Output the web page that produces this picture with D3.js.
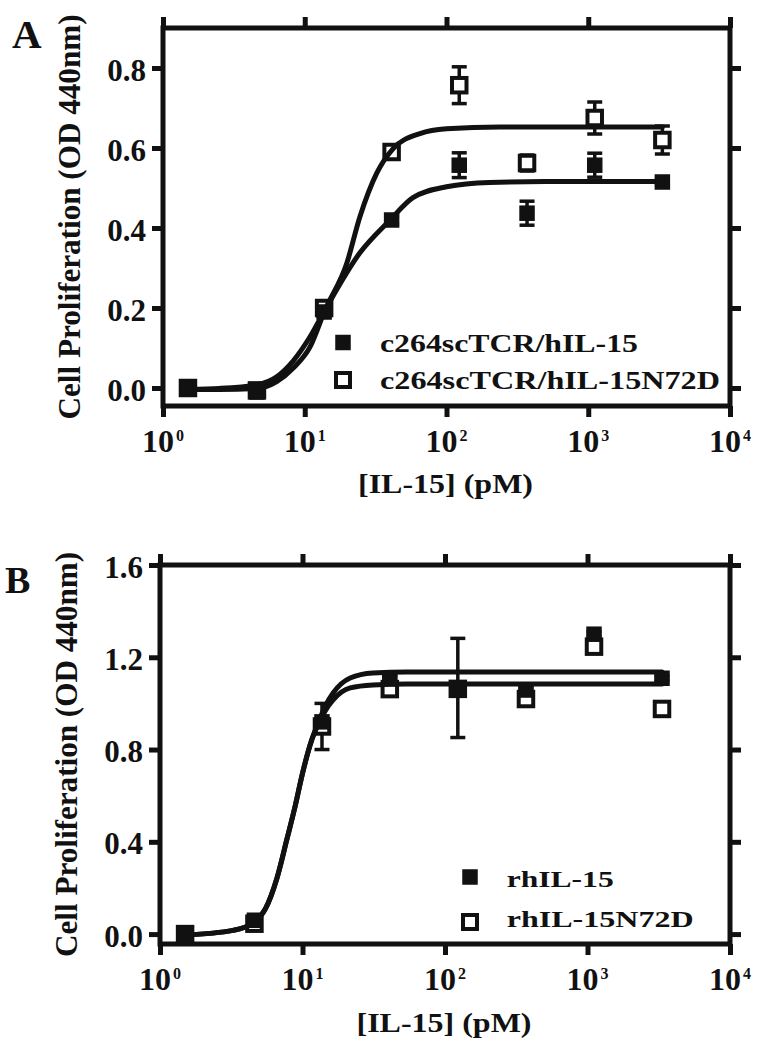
<!DOCTYPE html>
<html>
<head>
<meta charset="utf-8">
<script src="https://cdn.jsdelivr.net/npm/d3@7"></script>
<style>
  body { margin: 0; background: #fff; }
  svg { display: block; }
</style>
</head>
<body>
<svg id="chart" width="762" height="1050"></svg>
<script>
// ---------------- DATA ----------------
const concentrations = [1.5, 4.6, 13.7, 41, 123, 370, 1111, 3333]; // pM
const xTickValues = [1, 10, 100, 1000, 10000];
const xTickExponents = ["0", "1", "2", "3", "4"];

// Panel A
const aYTicks = [0.0, 0.2, 0.4, 0.6, 0.8];
const aYTickLabels = ["0.0", "0.2", "0.4", "0.6", "0.8"];
const aSeriesNames = ["c264scTCR/hIL-15", "c264scTCR/hIL-15N72D"];
const aFilled    = [0.0, -0.01, 0.19, 0.42, 0.557, 0.437, 0.557, 0.515];
const aFilledErr = [0.004, 0.004, 0.01, 0.01, 0.031, 0.030, 0.030, 0.006];
const aOpen      = [0.0, -0.006, 0.20, 0.59, 0.757, 0.5625, 0.675, 0.62];
const aOpenErr   = [0.004, 0.004, 0.01, 0.01, 0.046, 0.020, 0.040, 0.035];
const aFilledFit = [[1.5, -0.003], [2.5, -0.001], [4.6, 0.008], [6.34, 0.028], [8.3, 0.068], [10.9, 0.128],
                    [13.9, 0.195], [24.5, 0.338], [40, 0.42], [58, 0.476], [100, 0.503], [200, 0.514],
                    [500, 0.516], [3333, 0.516]];
const aOpenFit   = [[1.5, -0.004], [2.5, -0.004], [4.6, -0.001], [6.34, 0.016], [8.3, 0.05], [10.9, 0.103],
                    [13.9, 0.195], [19.8, 0.312], [24.5, 0.428], [32.2, 0.537], [41.9, 0.598], [65, 0.636],
                    [100, 0.648], [238, 0.6525], [3333, 0.6525]];

// Panel B
const bYTicks = [0.0, 0.4, 0.8, 1.2, 1.6];
const bYTickLabels = ["0.0", "0.4", "0.8", "1.2", "1.6"];
const bSeriesNames = ["rhIL-15", "rhIL-15N72D"];
const bFilled    = [0.0, 0.06, 0.92, 1.107, 1.067, 1.058, 1.30, 1.109];
const bFilledErr = [0.004, 0.004, 0.01, 0.01, 0.215, 0.01, 0.01, 0.01];
const bOpen      = [0.0, 0.045, 0.90, 1.062, 1.063, 1.019, 1.246, 0.976];
const bOpenErr   = [0.004, 0.004, 0.10, 0.01, 0.01, 0.01, 0.01, 0.01];
const bFilledFit = [[1.5, -0.004], [3.25, 0.016], [4.5, 0.048], [5.5, 0.11], [6.6, 0.24], [7.75, 0.408],
                    [8.86, 0.552], [10.0, 0.697], [11.6, 0.841], [12.9, 0.915], [14.5, 0.99], [16.4, 1.045],
                    [21.6, 1.11], [31.2, 1.132], [54, 1.136], [3333, 1.136]];
const bOpenFit   = [[1.5, -0.004], [3.25, 0.016], [4.5, 0.048], [5.5, 0.11], [6.6, 0.24], [7.75, 0.408],
                    [8.86, 0.552], [10.0, 0.697], [11.6, 0.841], [12.9, 0.91], [14.5, 0.97], [16.4, 1.015],
                    [21.6, 1.067], [31.2, 1.08], [54, 1.084], [3333, 1.084]];

const yTitle = "Cell Proliferation (OD 440nm)";
const xTitle = "[IL-15] (pM)";

// ---------------- FONT PICK ----------------
function fontAvailable(name) {
  const ctx = document.createElement("canvas").getContext("2d");
  const s = "abcdefghijklmnopqrstuvwxyzABCDEFGHIJ0123456789";
  ctx.font = "bold 40px monospace";
  const w0 = ctx.measureText(s).width;
  ctx.font = `bold 40px "${name}", monospace`;
  return Math.abs(ctx.measureText(s).width - w0) > 0.5;
}
const serifCandidates = ["Liberation Serif", "Times New Roman", "Tinos", "Nimbus Roman", "Nimbus Roman No9 L", "FreeSerif", "DejaVu Serif"];
const FONT = (serifCandidates.find(fontAvailable) || "serif");
const FONT_CSS = `"${FONT}", serif`;

// ---------------- LAYOUT ----------------
const INK = "#111";
const panels = [
  {
    letter: "A", letterX: 12, letterY: 48, letterSize: 41,
    left: 163, right: 730, top: 28, bottom: 406, yDomain: [-0.045, 0.9],
    yTicks: aYTicks, yTickLabels: aYTickLabels,
    filled: aFilled, filledErr: aFilledErr, open: aOpen, openErr: aOpenErr,
    filledFit: aFilledFit, openFit: aOpenFit, names: aSeriesNames,
    yTitleX: 80, xTitleY: 493,
    legend: { sqX: 343, rowY: [342.5, 380], textX: 380, baseY: [351.7, 389.3], size: 25, lens: [258, 340] }
  },
  {
    letter: "B", letterX: 5, letterY: 593, letterSize: 38,
    left: 160, right: 730, top: 565, bottom: 944, yDomain: [-0.043, 1.6],
    yTicks: bYTicks, yTickLabels: bYTickLabels,
    filled: bFilled, filledErr: bFilledErr, open: bOpen, openErr: bOpenErr,
    filledFit: bFilledFit, openFit: bOpenFit, names: bSeriesNames,
    yTitleX: 77, xTitleY: 1032,
    legend: { sqX: 470, rowY: [877, 922], textX: 506.7, baseY: [886.7, 927], size: 24, lens: [107, 187] }
  }
];

const svg = d3.select("#chart");

function txt(sel) {
  return sel.attr("font-family", FONT_CSS).attr("font-weight", "bold").attr("fill", INK);
}

function drawPanel(p) {
  const g = svg.append("g");
  const x = d3.scaleLog().domain([1, 10000]).range([p.left, p.right]);
  const y = d3.scaleLinear().domain(p.yDomain).range([p.bottom, p.top]);

  const styleAxis = sel => {
    sel.select(".domain").remove();
    sel.selectAll(".tick line").attr("stroke", INK).attr("stroke-width", 5);
  };

  // Axes ticks (outward on all four sides)
  g.append("g").attr("transform", `translate(${p.left},0)`)
    .call(d3.axisLeft(y).tickValues(p.yTicks).tickSize(11).tickPadding(6)
      .tickFormat((d, i) => p.yTickLabels[i]))
    .call(styleAxis)
    .call(s => txt(s.selectAll(".tick text")).attr("font-size", 31).attr("dy", "0.39em"));
  g.append("g").attr("transform", `translate(${p.right},0)`)
    .call(d3.axisRight(y).tickValues(p.yTicks).tickSize(11).tickFormat(""))
    .call(styleAxis);
  g.append("g").attr("transform", `translate(0,${p.top})`)
    .call(d3.axisTop(x).tickValues(xTickValues).tickSize(11).tickFormat(""))
    .call(styleAxis);
  g.append("g").attr("transform", `translate(0,${p.bottom})`)
    .call(d3.axisBottom(x).tickValues(xTickValues).tickSize(11).tickFormat(""))
    .call(styleAxis);

  // Frame
  g.append("rect").attr("x", p.left).attr("y", p.top)
    .attr("width", p.right - p.left).attr("height", p.bottom - p.top)
    .attr("fill", "none").attr("stroke", INK).attr("stroke-width", 5);

  // X tick labels 10^n
  const xl = txt(g.append("g").selectAll("text").data(xTickValues).join("text"))
    .attr("x", d => x(d)).attr("y", p.bottom + 46).attr("text-anchor", "middle");
  xl.append("tspan").attr("font-size", 32).text("10");
  xl.append("tspan").attr("font-size", 16).attr("dx", 2).attr("dy", -11)
    .text((d, i) => xTickExponents[i]);

  // Axis titles
  txt(g.append("text")).attr("x", (p.left + p.right) / 2 - 1).attr("y", p.xTitleY)
    .attr("text-anchor", "middle").attr("font-size", 28)
    .attr("textLength", 175).attr("lengthAdjust", "spacingAndGlyphs").text(xTitle);
  txt(g.append("text"))
    .attr("transform", `translate(${p.yTitleX},${(p.top + p.bottom) / 2}) rotate(-90)`)
    .attr("text-anchor", "middle").attr("font-size", 31)
    .attr("textLength", 405).attr("lengthAdjust", "spacingAndGlyphs").text(yTitle);

  // Panel letter
  txt(g.append("text")).attr("x", p.letterX).attr("y", p.letterY)
    .attr("font-size", p.letterSize).text(p.letter);

  // Error bars
  const drawErr = (vals, errs) => {
    const eg = g.append("g").attr("stroke", INK).attr("stroke-width", 3.5);
    concentrations.forEach((c, i) => {
      const cx = x(c), y1 = y(vals[i] - errs[i]), y2 = y(vals[i] + errs[i]);
      eg.append("line").attr("x1", cx).attr("x2", cx).attr("y1", y1).attr("y2", y2);
      eg.append("line").attr("x1", cx - 7.5).attr("x2", cx + 7.5).attr("y1", y1).attr("y2", y1);
      eg.append("line").attr("x1", cx - 7.5).attr("x2", cx + 7.5).attr("y1", y2).attr("y2", y2);
    });
  };
  drawErr(p.open, p.openErr);
  drawErr(p.filled, p.filledErr);

  // Markers: open first, filled on top
  g.append("g").selectAll("rect").data(p.open).join("rect")
    .attr("x", (d, i) => x(concentrations[i]) - 7.25).attr("y", d => y(d) - 7.25)
    .attr("width", 14.5).attr("height", 14.5)
    .attr("fill", "#fff").attr("stroke", INK).attr("stroke-width", 4);
  g.append("g").selectAll("rect").data(p.filled).join("rect")
    .attr("x", (d, i) => x(concentrations[i]) - 7.75).attr("y", d => y(d) - 7.75)
    .attr("width", 15.5).attr("height", 15.5).attr("fill", INK);

  // Fitted curves
  const line = d3.line().x(d => x(d[0])).y(d => y(d[1])).curve(d3.curveMonotoneX);
  [p.openFit, p.filledFit].forEach(fit => {
    g.append("path").attr("d", line(fit)).attr("fill", "none")
      .attr("stroke", INK).attr("stroke-width", 5).attr("stroke-linecap", "round");
  });

  // Legend
  const L = p.legend;
  g.append("rect").attr("x", L.sqX - 7.75).attr("y", L.rowY[0] - 7.75)
    .attr("width", 15.5).attr("height", 15.5).attr("fill", INK);
  g.append("rect").attr("x", L.sqX - 7).attr("y", L.rowY[1] - 7)
    .attr("width", 14).attr("height", 14).attr("fill", "#fff").attr("stroke", INK).attr("stroke-width", 4);
  p.names.forEach((n, i) => {
    txt(g.append("text")).attr("x", L.textX).attr("y", L.baseY[i]).attr("font-size", L.size)
      .attr("textLength", L.lens[i]).attr("lengthAdjust", "spacingAndGlyphs").text(n);
  });
}

panels.forEach(drawPanel);
</script>
</body>
</html>
